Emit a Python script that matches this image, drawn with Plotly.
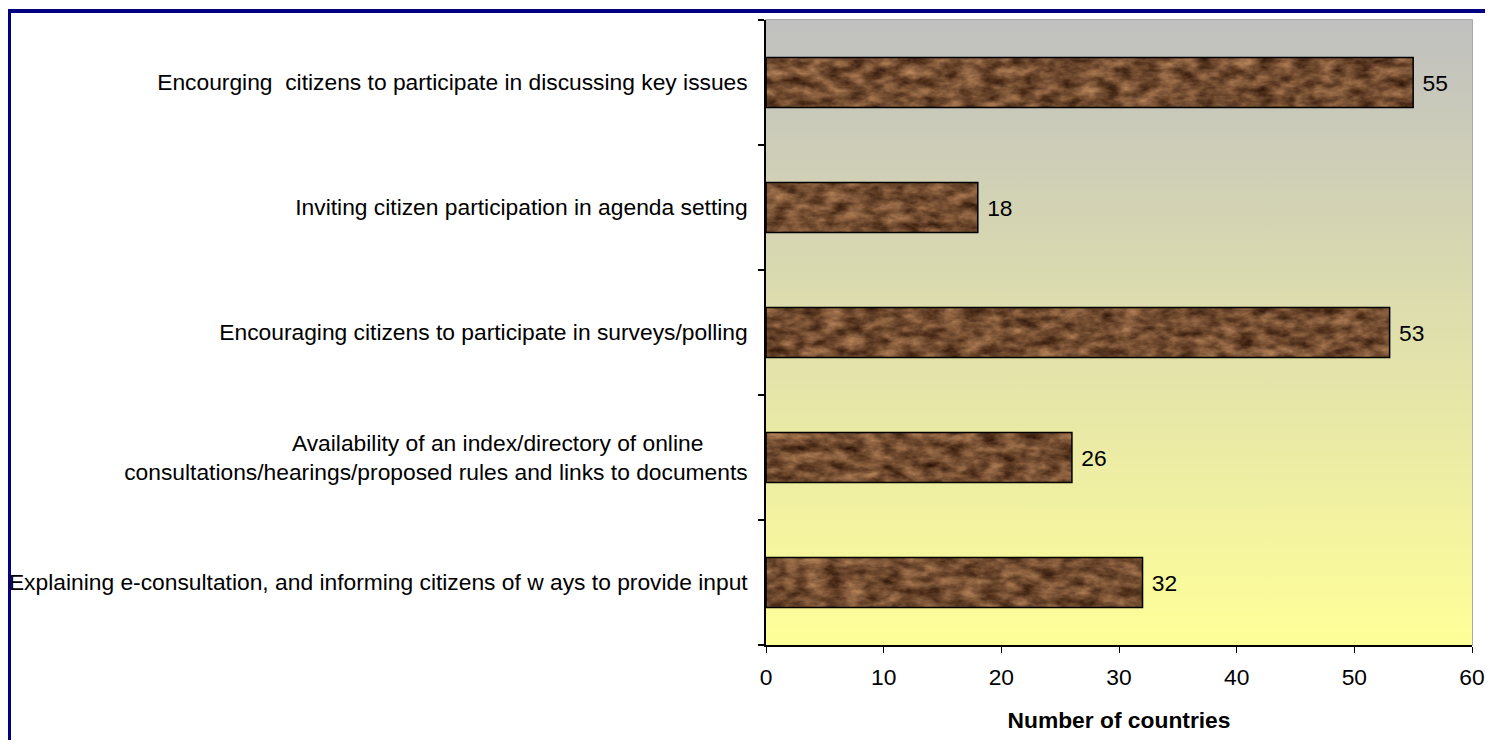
import base64
import plotly.graph_objects as go

categories = [
    "Encourging  citizens to participate in discussing key issues",
    "Inviting citizen participation in agenda setting",
    "Encouraging citizens to participate in surveys/polling",
    "Availability of an index/directory of online<br>consultations/hearings/proposed rules and links to documents",
    "Explaining e-consultation, and informing citizens of w ays to provide input",
]
values = [55, 18, 53, 26, 32]
x_ticks = [0, 10, 20, 30, 40, 50, 60]
x_title = "Number of countries"

FONT = "Liberation Sans, Arial, sans-serif"
FS = 22.8
BAR_W = 0.4

# figure geometry (page body adds an 8px offset)
W, H = 1477, 732
ML, MR, MT, MB = 758, 13, 12, 95
PW, PH = W - ML - MR, H - MT - MB


def svg_uri(svg):
    return "data:image/svg+xml;base64," + base64.b64encode(svg.encode()).decode()


grad_svg = (
    "<svg xmlns='http://www.w3.org/2000/svg' width='100' height='100' preserveAspectRatio='none'>"
    "<defs><linearGradient id='g' x1='0' y1='0' x2='0' y2='1'>"
    "<stop offset='0' stop-color='#C0C0C0'/><stop offset='1' stop-color='#FFFF99'/>"
    "</linearGradient></defs><rect width='100' height='100' fill='url(#g)'/></svg>"
)


def texture_svg(w, h, seed):
    return (
        f"<svg xmlns='http://www.w3.org/2000/svg' width='{w}' height='{h}' preserveAspectRatio='none'>"
        "<filter id='n' x='0' y='0' width='100%' height='100%' color-interpolation-filters='sRGB'>"
        f"<feTurbulence type='fractalNoise' baseFrequency='0.05 0.1' numOctaves='4' seed='{seed}'/>"
        "<feColorMatrix type='matrix' values='0.66 0 0 0 0.12  0.54 0 0 0 0.03  0.4 0 0 0 -0.01  0 0 0 0 1'/>"
        "</filter>"
        f"<rect width='{w}' height='{h}' fill='#5a3d25'/>"
        f"<rect width='{w}' height='{h}' filter='url(#n)'/></svg>"
    )


images = [dict(source=svg_uri(grad_svg), xref="x domain", yref="y domain", x=0, y=1,
               sizex=1, sizey=1, xanchor="left", yanchor="top", sizing="stretch", layer="below")]
for i, v in enumerate(values):
    images.append(dict(source=svg_uri(texture_svg(max(int(v * 12), 1), 50, i + 2)),
                       xref="x", yref="y", x=0, y=i - BAR_W / 2, sizex=v, sizey=BAR_W,
                       xanchor="left", yanchor="top", sizing="stretch", layer="below"))

ticktext = []
for c in categories:
    if "<br>" in c:
        a, b = c.split("<br>")
        pad = max(0, (len(b) - len(a)) // 2)
        ticktext.append(a + "\u00a0" * int(pad * 0.95) + "<br>" + b)
    else:
        ticktext.append(c)

fig = go.Figure(go.Bar(
    x=values, y=list(range(len(categories))), orientation="h", width=BAR_W,
    marker=dict(color="rgba(0,0,0,0)", line=dict(color="black", width=1.5)),
    text=[f"\u00a0{v}" for v in values], textposition="outside", cliponaxis=False,
    textfont=dict(family=FONT, size=FS, color="black"),
))

fig.update_layout(
    width=W, height=H,
    margin=dict(l=ML, r=MR, t=MT, b=MB, autoexpand=False),
    paper_bgcolor="white", plot_bgcolor="rgba(0,0,0,0)",
    font=dict(family=FONT, size=FS, color="black"),
    images=images, showlegend=False,
    shapes=[
        dict(type="rect", xref="paper", yref="paper",
             x0=0, x1=1, y0=0, y1=1,
             line=dict(color="#8c8c8c", width=1.5), layer="below"),
        dict(type="rect", xref="paper", yref="paper",
             x0=(1 - ML) / PW, x1=(W + 20 - ML) / PW, y0=1 + (MT - 3) / PH, y1=-(MB + 30) / PH,
             line=dict(color="#000080", width=4), layer="above"),
    ],
)
fig.update_xaxes(range=[0, 60], tickvals=x_ticks, ticks="outside", ticklen=6,
                 tickcolor="black", showline=True, linecolor="black", linewidth=1.5,
                 showgrid=False, zeroline=False, tickfont=dict(size=FS), automargin=False,
                 ticklabelstandoff=5, ticklabeloverflow="allow",
                 title=dict(text="<b>" + x_title + "</b>", font=dict(size=FS), standoff=23))
fig.update_yaxes(tickvals=list(range(len(categories))), ticktext=ticktext,
                 range=[len(categories) - 0.5, -0.5], automargin=False,
                 ticks="", showline=True, linecolor="black", linewidth=1.5, showgrid=False,
                 zeroline=False, tickfont=dict(size=FS), ticklabelstandoff=12,
                 minor=dict(tickvals=[i - 0.5 for i in range(len(categories) + 1)],
                            ticks="outside", ticklen=6, tickcolor="black", tickwidth=1.5))

fig.write_html("out.html")
